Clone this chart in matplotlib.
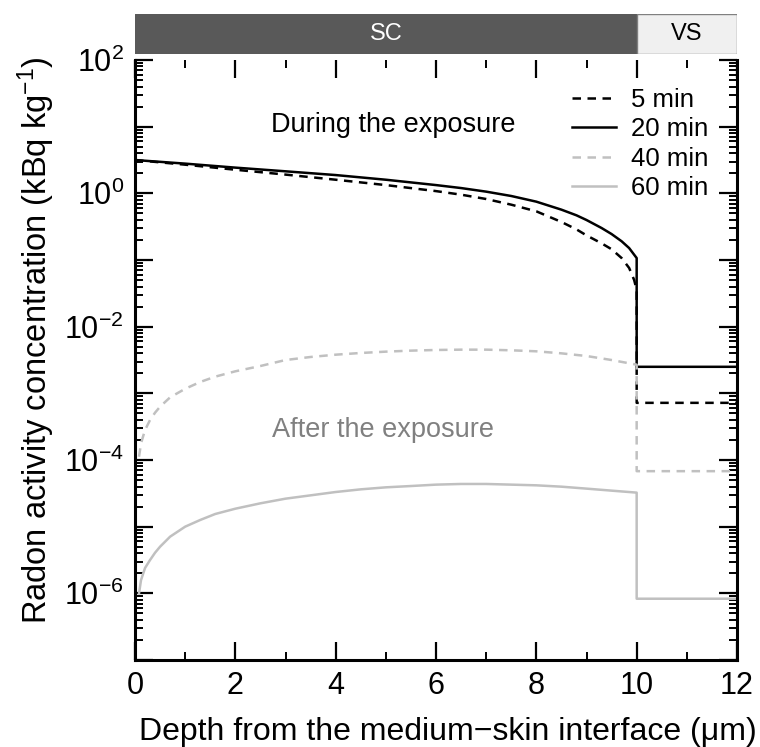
import numpy as np
import matplotlib
matplotlib.use("Agg")
import matplotlib.pyplot as plt
from matplotlib.ticker import LogLocator, MultipleLocator, NullFormatter, FuncFormatter

plt.rcParams['font.family'] = ['Liberation Sans', 'DejaVu Sans']
plt.rcParams['mathtext.fontset'] = 'custom'
plt.rcParams['mathtext.rm'] = 'Liberation Sans'
plt.rcParams['mathtext.it'] = 'Liberation Sans:italic'
plt.rcParams['mathtext.default'] = 'regular'

# ---- data ----
x_5 = [0, 1, 2, 3, 4, 5, 6, 6.5, 7, 7.5, 8, 8.5, 8.8, 9, 9.3, 9.5, 9.7, 9.85, 9.95, 10, 10, 12]
y_5 = [3.16, 2.69, 2.26, 1.91, 1.60, 1.33, 1.08, 0.955, 0.822, 0.676, 0.537, 0.372, 0.288,
       0.234, 0.178, 0.145, 0.107, 0.0759, 0.0501, 0.0355, 7.2e-4, 7.2e-4]

x_20 = [0, 1, 2, 3, 4, 5, 6, 6.5, 7, 7.5, 8, 8.5, 8.8, 9, 9.3, 9.5, 9.7, 9.85, 9.95, 10, 10, 12]
y_20 = [3.16, 2.79, 2.43, 2.14, 1.88, 1.60, 1.33, 1.20, 1.06, 0.912, 0.750, 0.569, 0.468,
        0.398, 0.302, 0.245, 0.191, 0.151, 0.120, 0.107, 2.5e-3, 2.5e-3]

x_40 = [0.08, 0.12, 0.2, 0.3, 0.4, 0.5, 0.7, 1.0, 1.3, 1.6, 2.0, 2.5, 3.0, 3.5, 4.0, 4.5, 5.0,
        5.5, 6.0, 6.5, 7.0, 7.5, 8.0, 8.5, 9.0, 9.5, 10, 10, 12]
y_40 = [1.12e-4, 1.78e-4, 2.82e-4, 3.98e-4, 5.13e-4, 6.31e-4, 8.71e-4, 1.17e-3, 1.48e-3,
        1.78e-3, 2.14e-3, 2.57e-3, 3.16e-3, 3.51e-3, 3.80e-3, 4.03e-3, 4.22e-3, 4.37e-3,
        4.47e-3, 4.52e-3, 4.52e-3, 4.42e-3, 4.27e-3, 3.98e-3, 3.63e-3, 3.16e-3, 2.69e-3,
        6.8e-5, 6.8e-5]

x_60 = [0.08, 0.12, 0.2, 0.3, 0.4, 0.5, 0.7, 1.0, 1.3, 1.6, 2.0, 2.5, 3.0, 3.5, 4.0, 4.5, 5.0,
        5.5, 6.0, 6.5, 7.0, 7.5, 8.0, 8.5, 9.0, 9.5, 10, 10, 12]
y_60 = [1.0e-6, 1.58e-6, 2.40e-6, 3.16e-6, 4.07e-6, 5.01e-6, 7.08e-6, 1.0e-5, 1.26e-5,
        1.55e-5, 1.86e-5, 2.24e-5, 2.63e-5, 2.95e-5, 3.31e-5, 3.63e-5, 3.89e-5, 4.07e-5,
        4.27e-5, 4.37e-5, 4.37e-5, 4.27e-5, 4.17e-5, 3.98e-5, 3.72e-5, 3.47e-5, 3.24e-5,
        8.3e-7, 8.3e-7]

series_labels = ['5 min', '20 min', '40 min', '60 min']
regions = ['SC', 'VS']
region_edges = [0, 10, 12]

fig = plt.figure(figsize=(7.6, 7.47), dpi=100)
ax = fig.add_axes([135/760, 1-660/747, (737-135)/760, 600/747])

black = '#000000'
gray = '#c0c0c0'
dash = (0, (3.4, 2.6))
ax.plot(x_5, y_5, color=black, lw=1.8, ls=dash, label=series_labels[0])
ax.plot(x_20, y_20, color=black, lw=1.8, label=series_labels[1])
ax.plot(x_40, y_40, color=gray, lw=1.8, ls=dash, label=series_labels[2])
ax.plot(x_60, y_60, color=gray, lw=1.8, label=series_labels[3])

ax.set_yscale('log')
ax.set_xlim(0, 12)
ax.set_ylim(1e-7, 1e2)
ax.xaxis.set_major_locator(MultipleLocator(2))
ax.xaxis.set_minor_locator(MultipleLocator(1))
ax.yaxis.set_major_locator(LogLocator(base=10, numticks=20))
ax.yaxis.set_minor_locator(LogLocator(base=10, subs=np.arange(2, 10), numticks=20))
ax.yaxis.set_minor_formatter(NullFormatter())


def fmt(v, pos):
    e = int(round(np.log10(v)))
    if e % 2 == 0 and e >= -6:
        return r'$10^{%d}$' % e
    return ''


ax.yaxis.set_major_formatter(FuncFormatter(fmt))

ax.tick_params(which='both', direction='in', top=True, right=True, labelsize=22, pad=8)
ax.tick_params(which='major', length=13, width=1.6)
ax.tick_params(which='minor', length=6, width=1.4)
for s in ['left', 'right', 'bottom']:
    ax.spines[s].set_linewidth(2.2)
ax.spines['top'].set_visible(False)

ax.set_xlabel('Depth from the medium\u2212skin interface (\u03bcm)', fontsize=23, labelpad=11)
ax.xaxis.set_label_coords(0.52, -0.095)
ax.set_ylabel('Radon activity concentration (kBq kg$^{-1}$)', fontsize=23.5, labelpad=6)
ax.yaxis.set_label_coords(-0.13, 0.533)

ax.text(5.14, 10**1.03, 'During the exposure', fontsize=19.5, color='#000000', ha='center', va='center')
ax.text(4.95, 10**-3.55, 'After the exposure', fontsize=19.5, color='#808080', ha='center', va='center')

leg = ax.legend(loc='upper right', bbox_to_anchor=(1.0, 1.0), frameon=False, fontsize=18.5,
                handlelength=1.7, handletextpad=0.6, labelspacing=0.2, borderaxespad=0.8,
                borderpad=0.3)

# top region bar
bx = fig.add_axes([135/760, 1-54/747, (737-135)/760, 40/747])
bx.set_xlim(0, 12)
bx.set_ylim(0, 1)
bx.axis('off')
bx.barh(0.5, region_edges[1]-region_edges[0], left=region_edges[0], height=1.0,
        color='#595959', edgecolor='#595959')
bx.barh(0.5, region_edges[2]-region_edges[1], left=region_edges[1], height=1.0,
        color='#f0f0f0', edgecolor='#808080', lw=1)
bx.text((region_edges[0]+region_edges[1])/2, 0.5, regions[0], color='white', fontsize=17,
        ha='center', va='center')
bx.text((region_edges[1]+region_edges[2])/2, 0.5, regions[1], color='#000000', fontsize=17,
        ha='center', va='center')

fig.savefig('out.png', dpi=100)
